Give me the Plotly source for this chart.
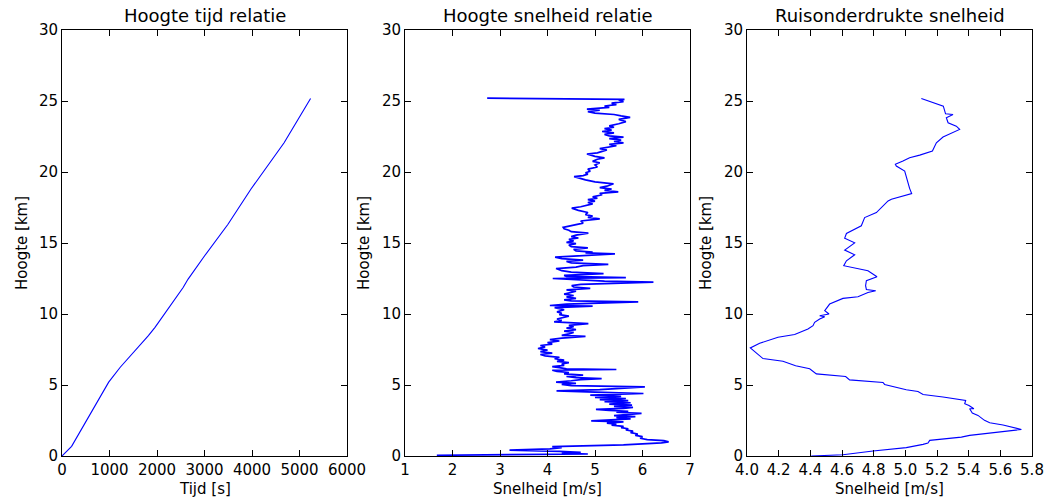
import plotly.graph_objects as go

# Panel 1: Hoogte vs tijd
tijd_s = [0, 202, 983, 1226, 1819, 1958, 2550, 2655, 3003, 3491, 3979, 4188, 4676, 5233]
hoogte1_km = [0, 0.68, 5.2, 6.25, 8.48, 9.06, 11.87, 12.46, 14.1, 16.3, 18.8, 19.8, 22.06, 25.17]

# Panel 2: Hoogte vs snelheid (noisy)
hoogte2_km = [0.05, 0.10, 0.14, 0.20, 0.25, 0.32, 0.42, 0.50, 0.58, 0.66, 0.78, 0.92, 1.00, 1.08, 1.15, 1.25,
              1.36, 1.45, 1.55, 1.65, 1.75, 1.83, 1.92, 2.00, 2.08, 2.18, 2.25, 2.32, 2.40, 2.48, 2.55, 2.62,
              2.70, 2.77, 2.85, 2.92, 3.00, 3.08, 3.15, 3.22, 3.28, 3.35, 3.42, 3.50, 3.58, 3.66, 3.75, 3.82,
              3.90, 3.97, 4.05, 4.12, 4.20, 4.28, 4.40, 4.50, 4.59, 4.68, 4.78, 4.87, 4.95, 5.05, 5.12, 5.20,
              5.30, 5.38, 5.45, 5.52, 5.60, 5.69, 5.78, 5.88, 5.96, 6.04, 6.09, 6.14, 6.22, 6.30, 6.38, 6.48,
              6.58, 6.66, 6.75, 6.85, 6.95, 7.05, 7.15, 7.25, 7.35, 7.45, 7.57, 7.68, 7.78, 7.88, 7.98, 8.10,
              8.20, 8.30, 8.43, 8.50, 8.60, 8.70, 8.80, 8.90, 9.00, 9.10, 9.20, 9.32, 9.44, 9.55, 9.65, 9.75,
              9.85, 9.95, 10.05, 10.15, 10.30, 10.45, 10.55, 10.60, 10.70, 10.85, 10.92, 11.00, 11.10, 11.20,
              11.30, 11.40, 11.50, 11.60, 11.70, 11.80, 11.90, 12.00, 12.08, 12.15, 12.25, 12.32, 12.40, 12.50,
              12.56, 12.65, 12.72, 12.84, 12.95, 13.05, 13.20, 13.30, 13.40, 13.50, 13.60, 13.70, 13.80, 13.90,
              14.00, 14.10, 14.24, 14.30, 14.36, 14.45, 14.55, 14.65, 14.75, 14.85, 14.95, 15.05, 15.15, 15.25,
              15.35, 15.45, 15.55, 15.70, 15.80, 15.90, 16.00, 16.10, 16.25, 16.40, 16.55, 16.70, 16.80, 16.90,
              17.00, 17.15, 17.30, 17.45, 17.55, 17.65, 17.75, 17.85, 17.95, 18.05, 18.15, 18.25, 18.40, 18.50,
              18.60, 18.70, 18.80, 18.90, 19.00, 19.17, 19.30, 19.45, 19.60, 19.67, 19.75, 19.85, 19.95, 20.05,
              20.20, 20.35, 20.50, 20.65, 20.75, 20.90, 21.00, 21.10, 21.27, 21.35, 21.45, 21.55, 21.65, 21.75,
              21.85, 21.95, 22.05, 22.15, 22.25, 22.35, 22.45, 22.55, 22.65, 22.75, 22.85, 22.95, 23.05, 23.15,
              23.25, 23.40, 23.55, 23.70, 23.85, 23.95, 24.05, 24.15, 24.25, 24.35, 24.43, 24.55, 24.65, 24.75,
              24.85, 24.95, 25.05, 25.12, 25.20]
snelheid2_ms = [1.67, 4.50, 4.85, 4.30, 4.70, 4.25, 3.20, 4.05, 4.30, 4.10, 5.60, 6.40, 6.55, 6.45, 6.10, 5.95,
                6.00, 5.85, 5.90, 5.75, 5.80, 5.65, 5.70, 5.55, 5.60, 5.35, 5.45, 5.25, 5.60, 4.92, 5.40, 5.75,
                5.45, 5.85, 5.40, 5.65, 5.98, 5.45, 5.70, 5.30, 5.02, 5.60, 5.80, 5.40, 5.78, 5.30, 5.75, 5.20,
                5.70, 5.10, 5.65, 5.00, 5.55, 4.90, 6.02, 5.00, 4.19, 5.10, 5.60, 6.05, 4.50, 4.30, 4.60, 4.18,
                4.50, 4.70, 5.14, 4.60, 4.40, 4.75, 4.35, 4.45, 4.20, 4.10, 5.45, 4.40, 4.25, 4.10, 4.35, 4.30,
                4.45, 4.20, 4.35, 4.15, 4.25, 3.95, 3.85, 4.10, 3.85, 4.00, 3.80, 3.95, 3.85, 4.10, 4.00, 4.25,
                4.05, 4.30, 4.80, 4.30, 4.45, 4.55, 4.35, 4.60, 4.40, 4.55, 4.45, 4.86, 4.14, 4.30, 4.20, 4.35,
                4.45, 4.25, 4.30, 4.20, 4.35, 4.15, 4.95, 4.05, 4.40, 5.91, 4.50, 4.35, 4.60, 4.40,
                4.55, 4.35, 4.50, 4.60, 4.40, 4.90, 4.55, 4.51, 4.70, 5.50, 6.23, 5.20, 4.60, 4.11,
                5.65, 4.40, 4.35, 5.18, 4.50, 4.30, 4.18, 4.60, 4.75, 5.28, 4.50, 4.40, 4.75, 4.30,
                4.16, 4.60, 5.42, 4.80, 4.95, 4.60, 4.55, 4.85, 4.50, 4.45, 4.60, 4.40, 4.55, 4.45,
                4.65, 4.50, 4.60, 4.86, 4.50, 4.45, 4.35, 4.33, 4.55, 4.75, 4.70, 5.10, 4.85, 4.95,
                4.80, 4.85, 4.65, 4.51, 4.70, 4.80, 4.95, 4.85, 5.00, 4.85, 5.05, 4.95, 5.15, 5.10,
                5.49, 5.20, 5.35, 5.10, 5.25, 5.39, 5.00, 4.80, 4.65, 4.56, 4.75, 4.85, 4.80, 4.90,
                4.85, 5.05, 5.00, 5.10, 4.95, 5.05, 5.20, 5.00, 4.83, 5.05, 5.15, 5.25, 5.10, 5.30,
                5.45, 5.30, 5.60, 5.40, 5.55, 5.30, 5.60, 5.30, 5.20, 5.40, 5.15, 5.35, 5.20, 5.40,
                5.30, 5.50, 5.65, 5.50, 5.74, 5.55, 5.40, 5.00, 4.85, 5.10, 4.83, 5.30, 5.20, 5.45,
                5.35, 5.60, 5.50, 5.62, 2.73]

# Panel 3: Ruisonderdrukte snelheid (smoothed)
hoogte3_km = [0, 0.09, 0.35, 0.59, 0.82, 0.91, 1.10, 1.22, 1.33, 1.45, 1.87, 2.18, 2.34, 2.51, 2.86, 3.02,
              3.33, 3.33, 3.56, 3.68, 3.91, 4.15, 4.33, 4.54, 4.66, 5.04, 5.18, 5.36, 5.60, 5.78, 6.14, 6.35,
              6.67, 6.86, 7.61, 7.94, 8.17, 8.36, 8.55, 8.95, 9.18, 9.41, 9.65, 9.81, 9.88, 10.0, 10.23, 10.7,
              11.1, 11.22, 11.52, 11.64, 11.73, 11.99, 12.34, 12.62, 13.04, 13.33, 13.40, 13.75, 14.17, 14.5,
              15.01, 15.34, 15.67, 16.21, 16.51, 16.79, 17.14, 17.96, 18.08, 18.48, 18.85, 19.48, 20.07, 20.42,
              20.54, 20.77, 21.01, 21.19, 21.48, 22.06, 22.46, 23.0, 23.23, 23.47, 23.82, 24.05, 24.1, 24.64,
              24.87, 25.17]
snelheid3_ms = [4.406, 4.606, 4.796, 5.006, 5.112, 5.143, 5.154, 5.28, 5.354, 5.406, 5.733, 5.617, 5.533, 5.50,
                5.459, 5.423, 5.406, 5.433, 5.402, 5.375, 5.381, 5.238, 5.112, 5.08, 5.006, 4.869, 4.859, 4.648,
                4.623, 4.438, 4.396, 4.307, 4.227, 4.101, 4.021, 4.08, 4.143, 4.196, 4.301, 4.385, 4.417, 4.427,
                4.459, 4.491, 4.459, 4.518, 4.491, 4.522, 4.606, 4.701, 4.764, 4.813, 4.754, 4.749, 4.754, 4.821,
                4.764, 4.648, 4.611, 4.628, 4.68, 4.617, 4.68, 4.617, 4.628, 4.722, 4.733, 4.743, 4.817, 4.891,
                4.912, 5.04, 5.027, 5.011, 4.996, 4.943, 4.937, 4.985, 5.027, 5.091, 5.171, 5.196, 5.238, 5.343,
                5.322, 5.27, 5.259, 5.301, 5.254, 5.24, 5.175, 5.101]

titles = ["Hoogte tijd relatie", "Hoogte snelheid relatie", "Ruisonderdrukte snelheid"]
xlabels = ["Tijd [s]", "Snelheid [m/s]", "Snelheid [m/s]"]
ylabel = "Hoogte [km]"

W, H = 1054, 501
xdoms = [(62 / W, 347 / W), (405 / W, 690 / W), (747 / W, 1032 / W)]
ydom = (1 - 456 / H, 1 - 30 / H)

FONT = "DejaVu Sans"
fig = go.Figure()
fig.add_trace(go.Scatter(x=tijd_s, y=hoogte1_km, mode="lines", line=dict(color="#0000ff", width=1.1),
                         xaxis="x", yaxis="y", showlegend=False))
fig.add_trace(go.Scatter(x=snelheid2_ms, y=hoogte2_km, mode="lines", line=dict(color="#0000ff", width=1.7),
                         xaxis="x2", yaxis="y2", showlegend=False))
fig.add_trace(go.Scatter(x=snelheid3_ms, y=hoogte3_km, mode="lines", line=dict(color="#0000ff", width=1.1),
                         xaxis="x3", yaxis="y3", showlegend=False))

common = dict(showline=True, linecolor="black", linewidth=1, mirror="ticks", ticks="inside",
              ticklen=6, tickcolor="black", showgrid=False, zeroline=False, automargin=False,
              tickfont=dict(family=FONT, size=15, color="black"))

xranges = [(0, 6000), (1, 7), (4.0, 5.8)]
xdticks = [1000, 1, 0.2]
xfmts = ["d", "d", ".1f"]
layout = dict(width=W, height=H, margin=dict(l=0, r=0, t=0, b=0), plot_bgcolor="white",
              paper_bgcolor="white", font=dict(family=FONT, color="black"))
for i in range(3):
    sfx = "" if i == 0 else str(i + 1)
    layout["xaxis" + sfx] = dict(domain=list(xdoms[i]), range=list(xranges[i]), dtick=xdticks[i],
                                 tick0=xranges[i][0], tickformat=xfmts[i], anchor="y" + sfx, **common)
    layout["yaxis" + sfx] = dict(domain=list(ydom), range=[0, 30], dtick=5, tick0=0,
                                 anchor="x" + sfx, **common)
fig.update_layout(**layout)

ann = []
ylabel_x = [22, 364, 706]
for i in range(3):
    cx = (xdoms[i][0] + xdoms[i][1]) / 2
    ann.append(dict(text=titles[i], x=cx, y=ydom[1], xref="paper", yref="paper", xanchor="center",
                    yanchor="bottom", yshift=2, showarrow=False, font=dict(family=FONT, size=18, color="black")))
    ann.append(dict(text=xlabels[i], x=cx, y=1 - 489 / H, xref="paper", yref="paper", xanchor="center",
                    yanchor="middle", showarrow=False, font=dict(family=FONT, size=15, color="black")))
    ann.append(dict(text=ylabel, x=ylabel_x[i] / W, y=(ydom[0] + ydom[1]) / 2, xref="paper", yref="paper",
                    xanchor="center", yanchor="middle", textangle=-90, showarrow=False,
                    font=dict(family=FONT, size=15, color="black")))
fig.update_layout(annotations=ann)

fig.write_html("out.html", config={"displayModeBar": False},
               post_script="document.body.style.margin='0';document.body.style.overflow='hidden';")
